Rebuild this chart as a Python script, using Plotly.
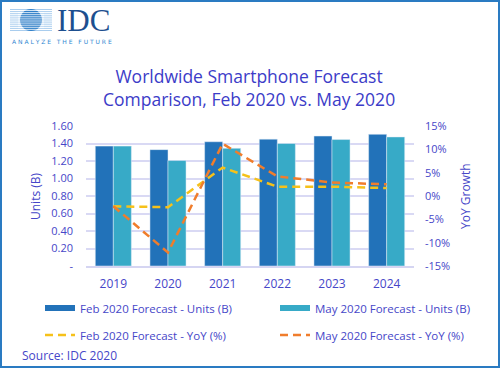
import plotly.graph_objects as go

years = ["2019", "2020", "2021", "2022", "2023", "2024"]
feb_units = [1.37, 1.33, 1.42, 1.45, 1.485, 1.505]
may_units = [1.37, 1.205, 1.345, 1.40, 1.445, 1.475]
feb_yoy = [-2.2, -2.4, 6.1, 2.0, 2.0, 1.7]
may_yoy = [-2.2, -12.1, 11.2, 4.2, 2.9, 2.5]

units_ticks = [0, 0.2, 0.4, 0.6, 0.8, 1.0, 1.2, 1.4, 1.6]
units_labels = ["-", "0.20", "0.40", "0.60", "0.80", "1.00", "1.20", "1.40", "1.60"]
yoy_ticks = [-15, -10, -5, 0, 5, 10, 15]
yoy_labels = ["-15%", "-10%", "-5%", "0%", "5%", "10%", "15%"]

C_FEB = "#2272b9"
C_MAY = "#37aac7"
C_FEB_Y = "#f6c11a"
C_MAY_Y = "#f07d2c"
TXT = "#4646c8"
FONT = "Open Sans"

W, H = 500, 368
ML, MR, MT, MB = 86, 86, 126, 102
PW, PH = W - ML - MR, H - MT - MB


def px(x):
    return (x - ML) / PW


def py(y):
    return (H - MB - y) / PH


fig = go.Figure()
fig.add_trace(go.Bar(x=years, y=feb_units, marker_color=C_FEB, showlegend=False, yaxis="y"))
fig.add_trace(go.Bar(x=years, y=may_units, marker_color=C_MAY, showlegend=False, yaxis="y"))
fig.add_trace(go.Scatter(x=years, y=feb_yoy, mode="lines", yaxis="y2", showlegend=False,
                         line=dict(color=C_FEB_Y, width=2.5, dash="8px,5px")))
fig.add_trace(go.Scatter(x=years, y=may_yoy, mode="lines", yaxis="y2", showlegend=False,
                         line=dict(color=C_MAY_Y, width=2.5, dash="8px,5px")))

# legend entries, one legend each for exact placement
fig.add_trace(go.Scatter(x=[None], y=[None], mode="lines", name="Feb 2020 Forecast - Units (B)",
                         line=dict(color=C_FEB, width=6), legend="legend"))
fig.add_trace(go.Scatter(x=[None], y=[None], mode="lines", name="May 2020 Forecast - Units (B)",
                         line=dict(color=C_MAY, width=6), legend="legend2"))
fig.add_trace(go.Scatter(x=[None], y=[None], mode="lines", name="Feb 2020 Forecast - YoY (%)",
                         line=dict(color=C_FEB_Y, width=2.5, dash="8px,5px"), legend="legend3"))
fig.add_trace(go.Scatter(x=[None], y=[None], mode="lines", name="May 2020 Forecast - YoY (%)",
                         line=dict(color=C_MAY_Y, width=2.5, dash="8px,5px"), legend="legend4"))

leg_common = dict(orientation="h", xanchor="left", yanchor="middle",
                  font=dict(family=FONT, size=11.5, color=TXT),
                  bgcolor="rgba(0,0,0,0)", itemwidth=30)

shapes = []
# border
shapes.append(dict(type="rect", xref="paper", yref="paper", x0=px(1), x1=px(499), y0=py(1), y1=py(367),
                   line=dict(color="#2a7bc2", width=2), fillcolor="rgba(0,0,0,0)", layer="below"))
# logo stripes
for i in range(11):
    yy = 9.5 + i * 2.1
    shapes.append(dict(type="line", xref="paper", yref="paper", x0=px(10), x1=px(52), y0=py(yy), y1=py(yy),
                       line=dict(color="#a9cdee", width=1)))
shapes.append(dict(type="circle", xref="paper", yref="paper", x0=px(20), x1=px(42), y0=py(9), y1=py(31),
                   fillcolor="#2f7fc8", line=dict(width=0)))
for i in range(10):
    yy = 10.5 + i * 2.1
    shapes.append(dict(type="line", xref="paper", yref="paper", x0=px(18), x1=px(44), y0=py(yy), y1=py(yy),
                       line=dict(color="white", width=0.8)))

annotations = [
    dict(text="IDC", x=px(55), y=py(20), xref="paper", yref="paper", xanchor="left", yanchor="middle",
         showarrow=False, font=dict(family="Liberation Serif", size=31, color="#1d4f8f")),
    dict(text="A N A L Y Z E  &nbsp;T H E  &nbsp;F U T U R E", x=px(10), y=py(42), xref="paper", yref="paper",
         xanchor="left", yanchor="middle", showarrow=False,
         font=dict(family="DejaVu Sans", size=6, color="#3088d2")),
    dict(text="Worldwide Smartphone Forecast<br>Comparison, Feb 2020 vs. May 2020", x=px(249), y=py(87),
         xref="paper", yref="paper", xanchor="center", yanchor="middle", showarrow=False,
         font=dict(family=FONT, size=17.5, color="#3c3cc8")),
    dict(text="Units (B)", x=px(35), y=py(196), xref="paper", yref="paper", xanchor="center", yanchor="middle",
         textangle=-90, showarrow=False, font=dict(family=FONT, size=12, color=TXT)),
    dict(text="YoY Growth", x=px(465), y=py(196), xref="paper", yref="paper", xanchor="center", yanchor="middle",
         textangle=-90, showarrow=False, font=dict(family=FONT, size=12, color=TXT)),
    dict(text="Source: IDC 2020", x=px(20), y=py(355), xref="paper", yref="paper", xanchor="left",
         yanchor="middle", showarrow=False, font=dict(family=FONT, size=12, color=TXT)),
]

fig.update_layout(
    width=W, height=H, margin=dict(l=ML, r=MR, t=MT, b=MB, autoexpand=False),
    paper_bgcolor="white", plot_bgcolor="white",
    barmode="group", bargap=0.34, bargroupgap=0,
    font=dict(family=FONT, color=TXT),
    xaxis=dict(showgrid=False, showline=True, linecolor="#d5d5f2", linewidth=1.5,
               tickfont=dict(size=12, color=TXT), ticklabelstandoff=6),
    yaxis=dict(range=[0, 1.6], tickvals=units_ticks, ticktext=units_labels, showgrid=True,
               gridcolor="#d9d9f4", gridwidth=1.5, zeroline=False, tickfont=dict(size=11, color=TXT),
               ticklabelstandoff=12),
    yaxis2=dict(range=[-15, 15], tickvals=yoy_ticks, ticktext=yoy_labels, overlaying="y", side="right",
                showgrid=False, zeroline=False, tickfont=dict(size=11, color=TXT), ticklabelstandoff=10),
    legend=dict(x=px(40), y=py(308), **leg_common),
    legend2=dict(x=px(275), y=py(308), **leg_common),
    legend3=dict(x=px(40), y=py(335), **leg_common),
    legend4=dict(x=px(275), y=py(335), **leg_common),
    shapes=shapes, annotations=annotations,
)

fig.write_html("out.html", config={"displayModeBar": False},
               post_script="document.body.style.margin='0';document.body.style.overflow='hidden';")
